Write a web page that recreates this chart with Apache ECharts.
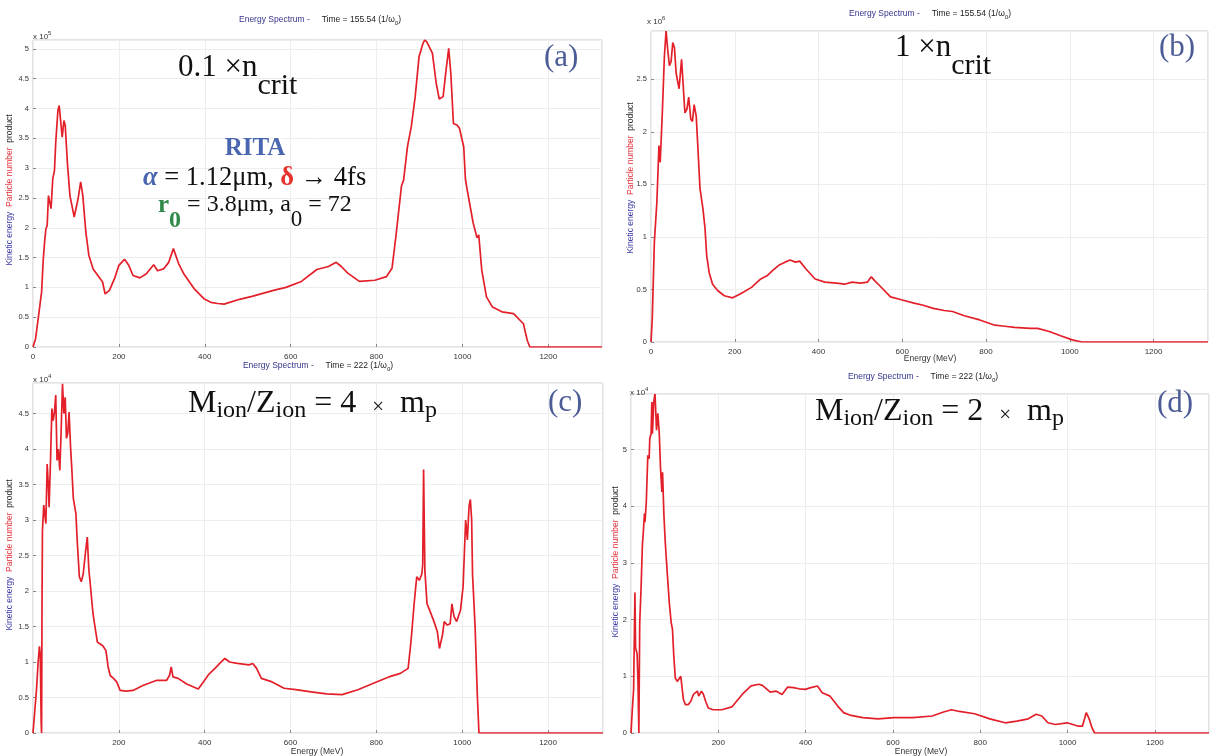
<!DOCTYPE html>
<html><head><meta charset="utf-8">
<script src="https://cdn.jsdelivr.net/npm/echarts@6/dist/echarts.min.js"></script>
<style>html,body{margin:0;padding:0;background:#fff}#c{width:1210px;height:756px}</style>
</head><body><div id="c"></div>
<script>
// ---- Panel (a): 0.1 x n_crit, values in units of 1e5 ----
const aEnergy = [0,6,12,20,24,27,30,33,36,39,42,46,50,53,58,61,64,68,72,75,80,86,96,105,111,116,123,130,140,154,162,168,178,190,200,213,223,233,249,264,281,290,304,316,327,339,351,375,398,414,430,445,481,510,535,560,589,625,661,688,706,718,733,760,796,823,836,845,858,863,872,881,890,899,908,912,917,921,930,939,946,955,961,968,973,979,988,993,1003,1007,1011,1025,1034,1038,1045,1056,1070,1092,1119,1142,1151,1157,1325];
const aValue  = [0,0.14,0.47,0.92,1.48,1.76,1.98,2.04,2.54,2.43,2.32,2.82,2.96,3.44,3.97,4.05,4.08,3.52,3.80,3.72,3.10,2.54,2.18,2.49,2.77,2.54,1.93,1.54,1.31,1.17,1.09,0.89,0.95,1.15,1.37,1.47,1.37,1.20,1.16,1.23,1.38,1.28,1.31,1.42,1.65,1.40,1.23,0.98,0.81,0.75,0.73,0.72,0.80,0.85,0.90,0.95,1.00,1.10,1.30,1.35,1.42,1.35,1.24,1.10,1.12,1.18,1.32,1.85,2.70,2.80,3.36,3.70,4.20,4.87,5.09,5.15,5.12,5.15,4.93,4.42,4.16,4.20,4.59,5.01,4.59,3.75,3.72,3.67,3.36,2.81,2.64,2.08,1.83,1.88,1.29,0.84,0.67,0.59,0.56,0.39,0.11,0,0];
// ---- Panel (b): 1 x n_crit, values in units of 1e6 ----
const bEnergy = [0,3,8,14,19,22,27,32,36,40,44,48,52,56,60,67,73,76,81,86,90,95,99,103,108,113,117,124,129,133,139,147,159,175,195,214,240,262,277,290,305,320,332,345,355,369,392,415,443,462,480,500,517,526,535,545,572,600,628,650,674,700,720,748,785,821,845,868,905,923,951,978,1006,1029,1330];
const bValue  = [0,0.22,0.95,1.33,1.87,1.71,2.18,2.72,2.96,2.78,2.63,2.67,2.85,2.80,2.56,2.41,2.69,2.69,2.18,2.22,2.33,2.12,2.10,2.26,2.15,1.77,1.46,1.27,1.08,0.82,0.66,0.55,0.49,0.44,0.42,0.46,0.52,0.60,0.63,0.68,0.73,0.76,0.78,0.76,0.77,0.70,0.60,0.57,0.56,0.55,0.57,0.56,0.57,0.62,0.58,0.54,0.43,0.40,0.37,0.35,0.32,0.30,0.29,0.25,0.21,0.16,0.15,0.14,0.13,0.13,0.10,0.06,0.02,0,0];
// ---- Panel (c): M/Z = 4 m_p, values in units of 1e4 ----
const cEnergy = [0,4,8,12,15,17,19,20,21,22,25,28,30,33,36,37.5,40.6,44,47,50,53,56,59,62.5,65.6,68.7,72,75,78,81,84,87.5,90.6,94,97,100,103,108,112.5,117,122,126.5,130,134,139,142,145,150,155,162.5,170,175,180,187.5,195,203,217,233,256,287,311,318,322,326,338,358,385,397,410,424,435,447,458,476,503,512,521,532,557,585,612,648,684,720,757,793,829,856,874,881,888,894,900,906,908,910,913,918,924,933,942,947,954,958,965,972,976,981,987,996,1002,1008,1012,1016,1019,1022,1024,1030,1035,1039,1328];
const cValue  = [0,0.3,0.6,1.0,1.22,1.1,0.15,0,1.8,2.85,3.21,3.19,2.95,3.79,3.46,3.18,3.79,4.57,4.40,4.52,4.76,3.84,4.00,3.70,4.26,4.92,4.50,4.73,4.15,4.22,4.52,4.03,3.70,3.30,3.30,3.09,2.71,2.20,2.13,2.24,2.53,2.76,2.31,2.06,1.73,1.59,1.59,1.28,1.26,1.23,1.16,0.93,0.81,0.77,0.72,0.60,0.59,0.60,0.67,0.74,0.74,0.81,0.93,0.79,0.77,0.69,0.62,0.72,0.83,0.91,0.98,1.05,1.00,0.98,0.96,0.98,0.91,0.77,0.72,0.63,0.61,0.58,0.55,0.54,0.61,0.70,0.79,0.84,0.91,1.31,1.82,2.20,2.15,2.24,2.38,3.71,2.29,1.82,1.73,1.59,1.43,1.19,1.38,1.57,1.52,1.54,1.82,1.64,1.57,1.73,2.06,3.00,2.72,3.20,3.29,3.00,2.24,1.50,0.56,0,0];
// ---- Panel (d): M/Z = 2 m_p, values in units of 1e4 ----
const dEnergy = [0,3,6,9,10.5,12,14,16,18,20,23,26,27.7,30.8,32,35,38.5,41.5,43,46,47.7,49,51,52,55,58.5,61.5,64.6,67.7,70.8,72.3,75.4,78.5,83,87.7,92,95,98,101.5,106,109,114,117,120,124.6,131,137,143,146,152,155,161.5,166,171,177,188,208,231,257,275,293,301,319,332,346,359,372,385,399,412,427,438,456,474,487,504,531,566,602,646,690,716,734,752,787,822,857,884,910,928,941,955,972,999,1025,1034,1043,1050,1056,1062,1324];
const dValue  = [0,0.41,0.77,2.48,1.5,1.53,1.4,0.9,0,1.95,2.54,3.30,3.48,3.87,3.72,4.07,4.90,4.84,5.19,5.28,5.84,5.28,5.61,5.84,5.98,5.34,5.64,5.31,4.66,4.25,4.60,3.84,3.36,2.83,2.30,1.95,1.83,1.36,0.97,0.91,0.89,1.00,0.80,0.59,0.50,0.50,0.56,0.68,0.65,0.74,0.65,0.74,0.68,0.56,0.44,0.41,0.41,0.46,0.70,0.83,0.86,0.84,0.72,0.74,0.68,0.81,0.80,0.78,0.77,0.80,0.83,0.71,0.65,0.47,0.36,0.31,0.27,0.25,0.27,0.27,0.30,0.37,0.41,0.38,0.34,0.25,0.18,0.21,0.25,0.33,0.30,0.18,0.15,0.18,0.12,0.12,0.36,0.24,0.09,0,0];

const energyInterval = 200;
const titles = ['Time = 155.54 (1/\u03c9', 'Time = 155.54 (1/\u03c9', 'Time = 222 (1/\u03c9', 'Time = 222 (1/\u03c9'];
const exponents = ['5', '6', '4', '4'];

const SANS = 'Liberation Sans, Arial, sans-serif';
const SERIF = 'Liberation Serif, Times New Roman, serif';
const RED = '#e3202a';

const panels = [
  {grid:{left:33, top:40, width:569, height:307}, xMax:1325, yMax:5.15, yInt:0.5, hideZero:false, ex:aEnergy, ey:aValue},
  {grid:{left:651, top:31, width:557, height:311}, xMax:1330, yMax:2.96, yInt:0.5, hideZero:false, ex:bEnergy, ey:bValue},
  {grid:{left:33, top:383, width:570, height:350}, xMax:1328, yMax:4.93, yInt:0.5, hideZero:true, ex:cEnergy, ey:cValue},
  {grid:{left:631, top:394, width:578, height:339}, xMax:1324, yMax:5.98, yInt:1, hideZero:true, ex:dEnergy, ey:dValue}
];

const grids = [], xAxes = [], yAxes = [], series = [];
panels.forEach((p, i) => {
  grids.push(Object.assign({show:true, borderColor:'#c9c9c9', borderWidth:1, containLabel:false}, p.grid));
  xAxes.push({type:'value', gridIndex:i, min:0, max:p.xMax, interval:energyInterval,
    axisLine:{show:false}, axisTick:{show:true, inside:true, length:3, lineStyle:{color:'#888'}},
    axisLabel:{fontSize:8, fontFamily:SANS, color:'#333', margin:6, showMaxLabel:false,
      formatter: v => (p.hideZero && v === 0) ? '' : String(v)},
    splitLine:{show:true, lineStyle:{color:'#ededed', width:1}}});
  yAxes.push({type:'value', gridIndex:i, min:0, max:p.yMax, interval:p.yInt,
    axisLine:{show:false}, axisTick:{show:true, inside:true, length:3, lineStyle:{color:'#888'}},
    axisLabel:{fontSize:7.5, fontFamily:SANS, color:'#333', margin:4, showMaxLabel:false},
    splitLine:{show:true, lineStyle:{color:'#ededed', width:1}}});
  series.push({type:'line', xAxisIndex:i, yAxisIndex:i, showSymbol:false, symbol:'none',
    data: p.ex.map((e, k) => [e, p.ey[k]]),
    lineStyle:{color:RED, width:1.7}, animation:false, clip:true});
});

function T(x, y, text, rich, extra) {
  return Object.assign({type:'text', x:x, y:y, silent:true, z:100,
    style:{text:text, rich:rich, fontFamily:SANS, fontSize:9, fill:'#222', align:'left', verticalAlign:'top'}}, extra || {});
}
function setAlign(el, a, va) { el.style.align = a; el.style.verticalAlign = va; return el; }

const titleRich = {
  b:{fill:'#34348c', fontSize:8.5, fontFamily:SANS, verticalAlign:'top'},
  k:{fill:'#222', fontSize:8.5, fontFamily:SANS, verticalAlign:'top'},
  s:{fill:'#222', fontSize:6, fontFamily:SANS, verticalAlign:'top', padding:[5,0,0,0]}
};
const expRich = {
  k:{fill:'#333', fontSize:8, fontFamily:SANS, verticalAlign:'top', padding:[3,0,0,0]},
  s:{fill:'#333', fontSize:6, fontFamily:SANS, verticalAlign:'top'}
};
const ynameRich = {
  b:{fill:'#3a3aa6', fontSize:8.5, fontFamily:SANS},
  r:{fill:'#e3303a', fontSize:8.5, fontFamily:SANS},
  k:{fill:'#222', fontSize:8.5, fontFamily:SANS}
};
const ynameText = '{b|Kinetic energy}{k|  }{r|Particle number}{k|  }{k|product}';
function titleText(i){ return '{b|Energy Spectrum -}{k|     ' + titles[i] + '}{s|0}{k|)}'; }

const graphics = [];
// panel titles
[[320,15],[930,9],[318,361],[923,372]].forEach((pos,i) => graphics.push(setAlign(T(pos[0], pos[1], titleText(i), titleRich), 'center', 'top')));
// exponents
[[33,30],[647,15],[33,373],[630,386]].forEach((pos,i) => graphics.push(T(pos[0], pos[1], '{k|x 10}{s|' + exponents[i] + '}', expRich)));
// y-axis names
[[10,190],[631,178],[10,555],[616,562]].forEach(pos => graphics.push(setAlign(T(pos[0], pos[1], ynameText, ynameRich, {rotation: Math.PI/2}), 'center', 'middle')));
// x-axis names
[[930,354],[317,747],[921,747]].forEach(pos => graphics.push(setAlign(T(pos[0], pos[1], 'Energy (MeV)', {}, {style:{text:'Energy (MeV)', fontFamily:SANS, fontSize:8.5, fill:'#333'}}), 'center', 'top')));

// big annotations
const big = {
  m:{fontFamily:SERIF, fontSize:31, fill:'#111', verticalAlign:'top'},
  s:{fontFamily:SERIF, fontSize:30, fill:'#111', verticalAlign:'top', padding:[19,0,0,0]}
};
graphics.push(T(178, 52, '{m|0.1 \u00d7n}{s|crit}', big));
graphics.push(T(895, 32, '{m|1 \u00d7n}{s|crit}', big));
const lbl = {l:{fontFamily:SERIF, fontSize:31, fill:'#4c5c97', verticalAlign:'top'}};
graphics.push(T(544, 42, '{l|(a)}', lbl));
graphics.push(T(1159, 32, '{l|(b)}', lbl));
graphics.push(T(548, 387, '{l|(c)}', lbl));
graphics.push(T(1157, 388, '{l|(d)}', lbl));

graphics.push(setAlign(T(255, 136, '{r|RITA}', {r:{fontFamily:SERIF, fontSize:25, fontWeight:'bold', fill:'#4a66b0'}}), 'center', 'top'));
graphics.push(T(143, 165, '{al|\u03b1}{t| = 1.12\u03bcm, }{de|\u03b4}{ar| \u2192 }{t|4fs}', {
  al:{fontFamily:SERIF, fontSize:26.5, fontWeight:'bold', fontStyle:'italic', fill:'#4a66b0', verticalAlign:'top'},
  t:{fontFamily:SERIF, fontSize:26.5, fill:'#111', verticalAlign:'top'},
  de:{fontFamily:SERIF, fontSize:26.5, fontWeight:'bold', fill:'#e8322d', verticalAlign:'top'},
  ar:{fontFamily:SERIF, fontSize:26.5, fontWeight:'bold', fill:'#111', verticalAlign:'top'}
}));
graphics.push(T(158, 193, '{g|r}{gs|0}{t| = 3.8\u03bcm, a}{ts|0}{t| = 72}', {
  g:{fontFamily:SERIF, fontSize:25, fontWeight:'bold', fill:'#2e8a46', verticalAlign:'top'},
  gs:{fontFamily:SERIF, fontSize:24, fontWeight:'bold', fill:'#2e8a46', verticalAlign:'top', padding:[16,0,0,0]},
  t:{fontFamily:SERIF, fontSize:24, fill:'#111', verticalAlign:'top'},
  ts:{fontFamily:SERIF, fontSize:23, fill:'#111', verticalAlign:'top', padding:[15,0,0,0]}
}));
const mz = {
  m:{fontFamily:SERIF, fontSize:32, fill:'#111', verticalAlign:'top'},
  s:{fontFamily:SERIF, fontSize:24, fill:'#111', verticalAlign:'top', padding:[11,0,0,0]},
  x:{fontFamily:SERIF, fontSize:21, fill:'#111', verticalAlign:'top', padding:[9,0,0,0]}
};
graphics.push(T(188, 388, '{m|M}{s|ion}{m|/Z}{s|ion}{m| = 4  }{x|\u00d7}{m|  m}{s|p}', mz));
graphics.push(T(815, 396, '{m|M}{s|ion}{m|/Z}{s|ion}{m| = 2  }{x|\u00d7}{m|  m}{s|p}', mz));

const chart = echarts.init(document.getElementById('c'), null, {renderer:'canvas'});
chart.setOption({
  animation:false,
  backgroundColor:'#ffffff',
  grid:grids, xAxis:xAxes, yAxis:yAxes, series:series,
  graphic:{elements:graphics}
});
</script></body></html>
